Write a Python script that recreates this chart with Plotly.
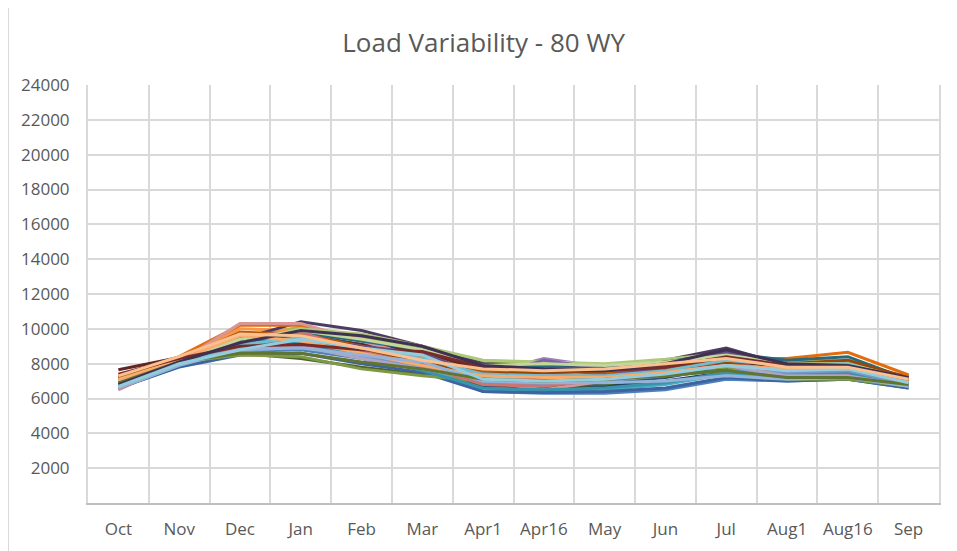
import plotly.graph_objects as go

months = ["Oct", "Nov", "Dec", "Jan", "Feb", "Mar", "Apr1", "Apr16",
          "May", "Jun", "Jul", "Aug1", "Aug16", "Sep"]

y_ticks = [2000, 4000, 6000, 8000, 10000, 12000, 14000, 16000,
           18000, 20000, 22000, 24000]

# one list per water year (approximate)
wy01 = [6900, 8100, 8900, 9000, 8500, 8000, 6700, 6600, 6700, 7000, 7500, 7300, 7400, 6800]
wy02 = [7100, 8200, 9200, 9500, 9000, 8600, 7500, 7400, 7300, 7600, 8200, 7700, 7800, 7000]
wy03 = [7000, 8300, 9500, 10100, 9500, 8900, 8100, 8000, 7900, 8200, 8500, 8000, 8100, 7200]
wy04 = [6800, 8100, 9000, 9300, 8800, 8300, 7400, 8300, 7800, 7900, 8300, 7600, 7600, 6900]
wy05 = [6900, 8000, 9300, 9700, 9100, 8800, 7800, 7700, 7500, 7900, 8400, 8100, 8200, 7100]
wy06 = [7200, 8300, 10000, 9900, 9300, 8400, 7700, 7500, 7400, 7800, 8000, 7700, 7700, 7100]
wy07 = [6600, 7900, 8700, 8800, 8300, 7700, 6400, 6300, 6300, 6500, 7100, 7000, 7100, 6600]
wy08 = [7650, 8350, 9400, 9500, 9100, 8700, 7600, 7500, 7600, 7800, 8300, 7500, 7600, 7000]
wy09 = [6800, 8000, 8600, 8300, 7800, 7400, 6800, 6700, 6800, 7400, 7700, 7300, 7300, 6700]
wy10 = [6900, 8200, 9400, 10400, 9900, 9000, 8000, 7900, 7800, 8200, 8900, 7900, 7800, 7300]
wy11 = [6700, 7900, 8800, 9100, 8600, 7900, 6500, 6400, 6500, 6800, 7400, 7200, 7300, 6700]
wy12 = [7300, 8400, 10200, 10200, 9400, 8200, 7600, 7700, 7500, 7900, 8300, 8300, 8650, 7350]
wy13 = [6700, 8100, 9300, 9600, 8800, 8000, 7000, 6800, 6900, 7200, 7800, 7500, 7500, 6800]
wy14 = [6500, 8100, 10300, 10300, 9300, 8300, 7000, 6500, 7000, 7600, 8000, 7600, 7800, 6700]
wy15 = [7000, 8300, 9200, 10000, 9700, 9000, 8200, 8100, 8000, 8250, 8600, 8100, 8200, 7200]
wy16 = [6700, 8000, 8800, 9200, 8500, 8000, 7200, 8200, 7700, 7700, 8100, 7500, 7400, 6800]
wy17 = [6800, 8100, 9000, 9800, 9300, 8800, 7900, 7800, 7700, 8100, 8600, 8200, 8400, 7100]
wy18 = [7100, 8200, 9800, 9700, 9000, 8200, 7600, 7700, 7400, 7700, 8000, 7600, 7700, 7000]
wy19 = [6600, 7800, 8500, 8600, 8000, 7500, 6400, 6350, 6400, 6600, 7200, 7000, 7100, 6600]
wy20 = [7000, 8200, 9100, 9200, 8700, 8300, 7200, 7100, 7200, 7500, 8000, 7400, 7500, 6900]
wy21 = [6800, 8100, 8500, 8400, 7700, 7300, 7000, 6900, 7000, 7500, 7800, 7100, 7100, 6700]
wy22 = [6900, 8100, 9000, 9400, 9000, 8600, 7300, 7200, 7300, 7800, 8700, 7800, 7700, 7000]
wy23 = [6600, 7900, 8900, 9300, 8400, 7600, 6600, 6500, 6600, 6900, 7500, 7400, 7500, 6700]
wy24 = [7200, 8300, 9500, 9400, 8800, 8100, 7400, 7500, 7600, 7900, 8100, 8000, 8200, 7200]
wy25 = [6900, 8000, 8700, 9000, 8400, 7800, 6900, 6800, 7000, 7300, 7600, 7500, 7600, 6800]
wy26 = [6550, 8000, 9600, 9800, 8700, 7900, 6800, 6700, 7100, 7500, 7900, 7700, 7900, 6800]
wy27 = [7000, 8200, 9400, 9900, 9400, 8800, 7900, 8000, 7900, 8100, 8500, 8000, 8000, 7100]
wy28 = [6800, 8000, 8900, 9000, 8300, 7700, 7100, 7300, 7200, 7500, 7900, 7300, 7300, 6700]
wy29 = [6700, 8000, 9100, 9500, 8900, 8300, 7400, 7300, 7300, 7600, 8200, 7900, 8000, 6900]
wy30 = [7100, 8200, 9600, 9300, 8600, 7900, 7300, 7200, 7200, 7500, 7900, 7700, 7700, 7000]
wy31 = [6600, 7900, 8800, 8900, 8500, 8100, 7000, 6900, 6900, 7000, 7300, 7100, 7200, 6700]
wy32 = [7400, 8300, 9000, 9100, 8800, 8700, 7800, 7600, 7600, 7800, 8400, 7900, 7800, 7100]
wy33 = [6900, 8100, 8600, 8600, 8100, 7700, 7100, 7000, 7100, 7300, 7600, 7200, 7200, 6800]
wy34 = [6800, 8100, 9200, 9900, 9600, 9000, 7900, 7700, 7600, 8000, 8800, 8000, 7900, 7200]
wy35 = [6700, 8000, 8800, 9400, 8900, 8500, 7100, 7000, 7100, 7400, 7900, 7600, 7700, 6900]
wy36 = [7300, 8400, 9700, 9600, 8900, 8200, 7700, 7600, 7700, 8000, 8300, 7800, 7800, 7100]

series = [wy01, wy02, wy03, wy04, wy05, wy06, wy07, wy08, wy09, wy10, wy11, wy12,
          wy13, wy14, wy15, wy16, wy17, wy18, wy19, wy20, wy21, wy22, wy23, wy24,
          wy25, wy26, wy27, wy28, wy29, wy30, wy31, wy32, wy33, wy34, wy35, wy36]

# Office 2007 style series colours, one per water year
colors = ["#254061", "#C0504D", "#9BBB59", "#9983B5", "#215968", "#F79646",
          "#4F81BD", "#632523", "#4F6228", "#4D3B62", "#4BACC6", "#E46C0A",
          "#2C4D75", "#D99694", "#AFC97A", "#8064A2", "#276A7C", "#B65708",
          "#3B64A0", "#A0403D", "#7E9A44", "#664F85", "#3993AA", "#974806",
          "#729ACA", "#CD7371", "#C3D69B", "#B3A2C7", "#6FBDD1", "#F9AB6B",
          "#95B3D7", "#772C2A", "#5F7530", "#403152", "#93CDDD", "#FAC090"]

fig = go.Figure()
for i, vals in enumerate(series):
    fig.add_trace(go.Scatter(x=months, y=vals, mode="lines",
                             line=dict(color=colors[i % len(colors)], width=3),
                             name=f"WY {i + 1}"))

# page has an 8px body margin, so margins are offset by it
fig.update_layout(
    width=957, height=551,
    margin=dict(l=80, r=26, t=77, b=56),
    paper_bgcolor="white", plot_bgcolor="white",
    showlegend=False,
    font=dict(family="Open Sans, sans-serif", color="#595959"),
    title=dict(text="Load Variability - 80 WY", x=0.497, xanchor="center",
               y=0.937, yanchor="middle",
               font=dict(family="Open Sans, sans-serif", size=26, color="#595959")),
    shapes=[dict(type="rect", xref="paper", yref="paper",
                 x0=-0.094, x1=1.08, y0=-0.2, y1=1.19,
                 line=dict(color="#D9D9D9", width=2), layer="below")],
)

fig.update_xaxes(type="category", categoryorder="array", categoryarray=months,
                 range=[-0.5, 13.5], tickson="boundaries", ticks="",
                 showgrid=True, gridcolor="#D9D9D9", gridwidth=2,
                 showline=True, linecolor="#BFBFBF", linewidth=2, mirror=False,
                 tickfont=dict(size=17, color="#595959"), ticklabelstandoff=10)

fig.update_yaxes(range=[0, 24000], tickvals=y_ticks, tickformat="d",
                 showgrid=True, gridcolor="#D9D9D9", gridwidth=2,
                 showline=True, linecolor="#D9D9D9", linewidth=2, mirror=True,
                 zeroline=False, ticks="",
                 tickfont=dict(size=17, color="#595959"), ticklabelstandoff=13)

fig.write_html("out.html")
